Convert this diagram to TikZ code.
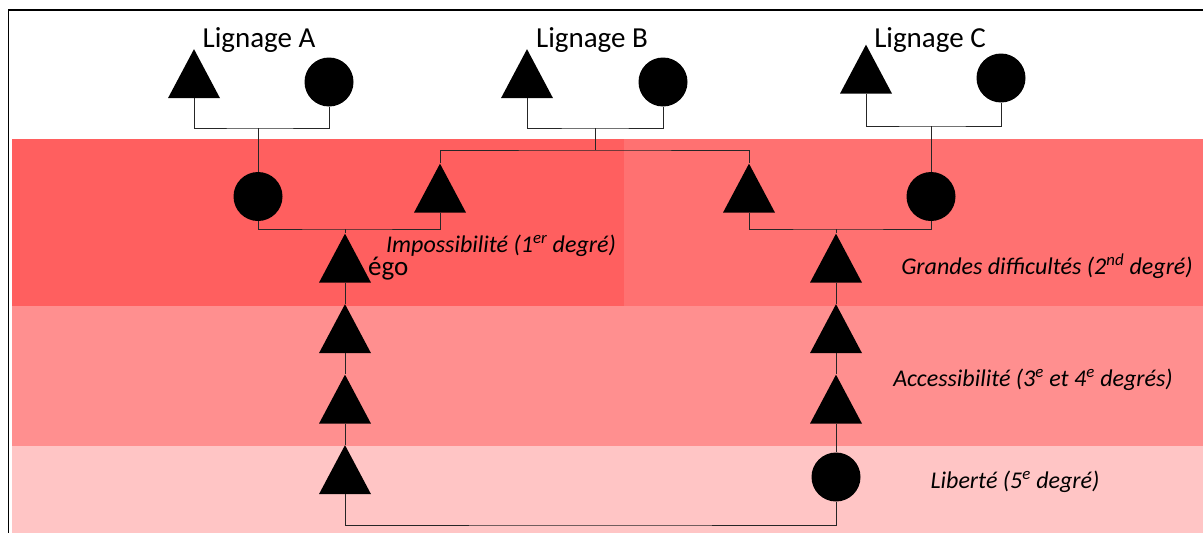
\documentclass[tikz,border=0pt]{standalone}
\usepackage{fontspec}
\setmainfont{Carlito}
\usetikzlibrary{shapes.geometric}
\definecolor{bandA}{HTML}{FF5F5F}
\definecolor{bandB}{HTML}{FF7171}
\definecolor{bandC}{HTML}{FF8F8F}
\definecolor{bandD}{HTML}{FFC5C5}
\definecolor{linkc}{HTML}{262626}
\begin{document}
\begin{tikzpicture}[x=1pt,y=-1pt,
 tri/.style={isosceles triangle, isosceles triangle stretches, shape border rotate=90, fill=black, draw=none, minimum width=52pt, minimum height=49pt, inner sep=0pt},
 circ/.style={circle, fill=black, draw=none, minimum size=49pt, inner sep=0pt},
 link/.style={draw=linkc, line width=1pt},
 lbl/.style={font=\fontsize{29}{33}\selectfont, inner sep=0pt},
 egolbl/.style={font=\fontsize{27}{31}\selectfont, inner sep=0pt},
 deg/.style={font=\fontsize{24}{28}\selectfont\itshape, inner sep=0pt}]
\clip (0,0) rectangle (1203,533);
\useasboundingbox (0,0) rectangle (1203,533);
\fill[white] (0,0) rectangle (1203,533);
% bands
\fill[bandA] (12,139) rectangle (624,306);
\fill[bandB] (624,139) rectangle (1203,306);
\fill[bandC] (12,306) rectangle (1203,446);
\fill[bandD] (12,446) rectangle (1203,533);
% frame
\draw[line width=1.8pt] (8.5,560) -- (8.5,10) -- (1220,10);
% labels
\node[lbl] (LA) at (259,40) {Lignage A};
\node[lbl] (LB) at (592,40) {Lignage B};
\node[lbl] (LC) at (930,40) {Lignage C};
% generation 1
\node[tri] (tA) at (194,82.5) {};
\node[circ] (cA) at (329,82) {};
\node[tri] (tB) at (527,82.5) {};
\node[circ] (cB) at (663,82) {};
\node[tri] (tC) at (866,78) {};
\node[circ] (cC) at (1001,78) {};
% generation 2
\node[circ] (gA) at (258,196.5) {};
\node[tri] (bL) at (440,197) {};
\node[tri] (bR) at (749,197) {};
\node[circ] (gC) at (931,196.5) {};
% ego column
\node[tri] (e1) at (345,267) {};
\node[tri] (e2) at (345,337.5) {};
\node[tri] (e3) at (345,408) {};
\node[tri] (e4) at (345,478.5) {};
% right column
\node[tri] (r1) at (836,267) {};
\node[tri] (r2) at (836,337.5) {};
\node[tri] (r3) at (836,408) {};
\node[circ] (r4) at (836,477) {};
% junctions
\coordinate (jA) at (258,128);
\coordinate (jB) at (595,128);
\coordinate (jB2) at (595,150);
\coordinate (jC) at (931,126);
\coordinate (jL) at (345,229);
\coordinate (jR) at (836,229);
\coordinate (jBot) at (590,525);
% connectors
\draw[link] (tA.south) |- (jA) -| (cA.south);
\draw[link] (jA) -- (gA.north);
\draw[link] (tB.south) |- (jB) -| (cB.south);
\draw[link] (jB) -- (jB2);
\draw[link] (bL.apex) |- (jB2) -| (bR.apex);
\draw[link] (tC.south) |- (jC) -| (cC.south);
\draw[link] (jC) -- (gC.north);
\draw[link] (gA.south) |- (jL) -| (bL.south);
\draw[link] (jL) -- (e1.apex);
\draw[link] (bR.south) |- (jR) -| (gC.south);
\draw[link] (jR) -- (r1.apex);
\draw[link] (e1.south) -- (e2.apex);
\draw[link] (e2.south) -- (e3.apex);
\draw[link] (e3.south) -- (e4.apex);
\draw[link] (e4.south) |- (jBot) -| (r4.south);
\draw[link] (r1.south) -- (r2.apex);
\draw[link] (r2.south) -- (r3.apex);
\draw[link] (r3.south) -- (r4.north);
% degree labels
\node[egolbl, anchor=west] (ego) at (368,269) {égo};
\node[deg] (d1) at (501,246) {Impossibilité (1\textsuperscript{er} degré)};
\node[deg] (d2) at (1047,266) {Grandes difficultés (2\textsuperscript{nd} degré)};
\node[deg] (d3) at (1033,380) {Accessibilité (3\textsuperscript{e} et 4\textsuperscript{e} degrés)};
\node[deg] (d4) at (1015,482) {Liberté (5\textsuperscript{e} degré)};
\end{tikzpicture}
\end{document}
